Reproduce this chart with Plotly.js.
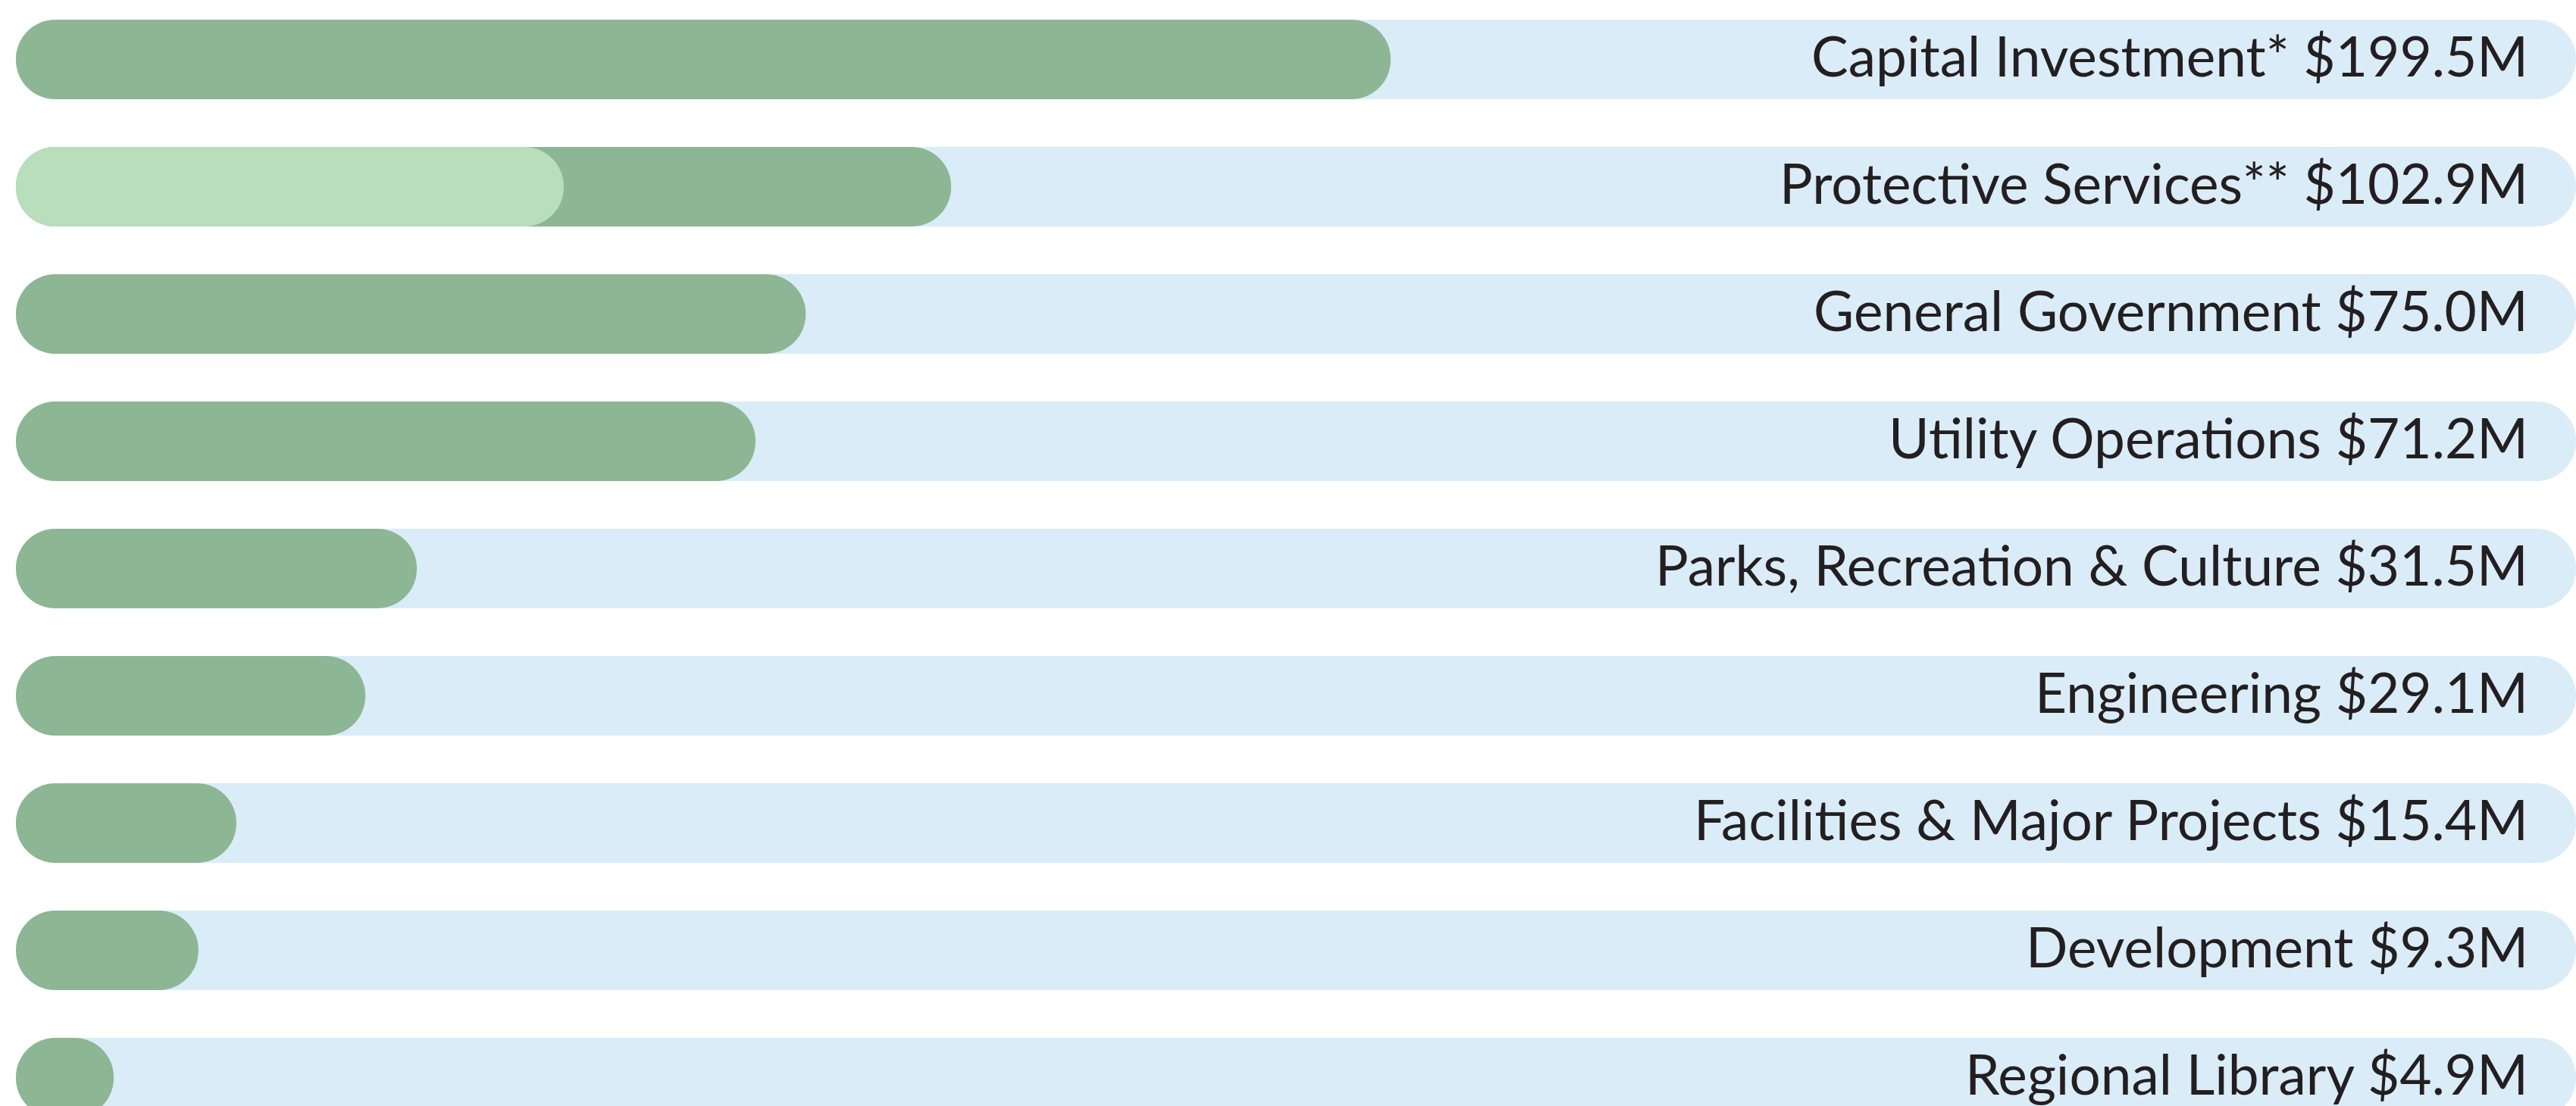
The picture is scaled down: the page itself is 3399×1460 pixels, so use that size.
<!DOCTYPE html>
<html>
<head>
<meta charset="utf-8">
<script src="https://cdn.plot.ly/plotly-3.0.1.min.js"></script>
<style>
  html, body { margin: 0; padding: 0; background: #ffffff; }
  #chart { width: 3399px; height: 1460px; }
</style>
</head>
<body>
<div id="chart"></div>
<script>
// ---- Data ----
const categories = [
  "Capital Investment",
  "Protective Services",
  "General Government",
  "Utility Operations",
  "Parks, Recreation & Culture",
  "Engineering",
  "Facilities & Major Projects",
  "Development",
  "Regional Library"
];
const labels = [
  "Capital Investment* $199.5M",
  "Protective Services** $102.9M",
  "General Government $75.0M",
  "Utility Operations $71.2M",
  "Parks, Recreation & Culture $31.5M",
  "Engineering $29.1M",
  "Facilities & Major Projects $15.4M",
  "Development $9.3M",
  "Regional Library $4.9M"
];
// Bar lengths as percent of the full track (as drawn in the picture)
const barLengths = [53.70, 36.53, 30.85, 28.89, 15.66, 13.65, 8.61, 7.13, 3.82];
// Lighter segment drawn inside the Protective Services bar
const highlightCategories = ["Protective Services"];
const highlightLengths = [21.40];
const trackMax = 100;

// ---- Styles ----
const trackColor = "#daecf7";
const barColor = "#8cb694";
const highlightColor = "#b8debb";
const textColor = "#231f20";
const barWidth = 0.625;
const radius = 53;

function roundedBar(ys, lengths, color) {
  return {
    type: "bar", orientation: "h", y: ys, x: lengths,
    base: lengths.map(() => 0), width: barWidth,
    marker: { color: color, cornerradius: radius, line: { width: 0 } },
    hoverinfo: "skip", showlegend: false
  };
}

const traces = [
  roundedBar(categories, categories.map(() => trackMax), trackColor),
  roundedBar(categories, barLengths, barColor),
  roundedBar(highlightCategories, highlightLengths, highlightColor)
];

const annotations = categories.map((c, i) => ({
  x: trackMax, y: c, xref: "x", yref: "y",
  text: labels[i], showarrow: false,
  xanchor: "right", yanchor: "middle",
  xshift: -62, yshift: 6, borderpad: 0,
  font: { family: "Lato, 'Open Sans', sans-serif", size: 73, color: textColor }
}));

const rowPitch = 168;      // px between rows
const firstCenter = 78.5;
const figH = 1460;
const yTop = -firstCenter / rowPitch;
const yBottom = yTop + figH / rowPitch;

const layout = {
  width: 3399, height: figH,
  margin: { l: 21, r: 0, t: 0, b: 0, pad: 0 },
  paper_bgcolor: "#ffffff", plot_bgcolor: "#ffffff",
  barmode: "overlay",
  showlegend: false,
  xaxis: { range: [0, trackMax], visible: false, fixedrange: true },
  yaxis: {
    type: "category", categoryorder: "array", categoryarray: categories,
    range: [yBottom, yTop], visible: false, fixedrange: true
  },
  annotations: annotations
};

Plotly.newPlot("chart", traces, layout, { displayModeBar: false, staticPlot: true });
</script>
</body>
</html>
